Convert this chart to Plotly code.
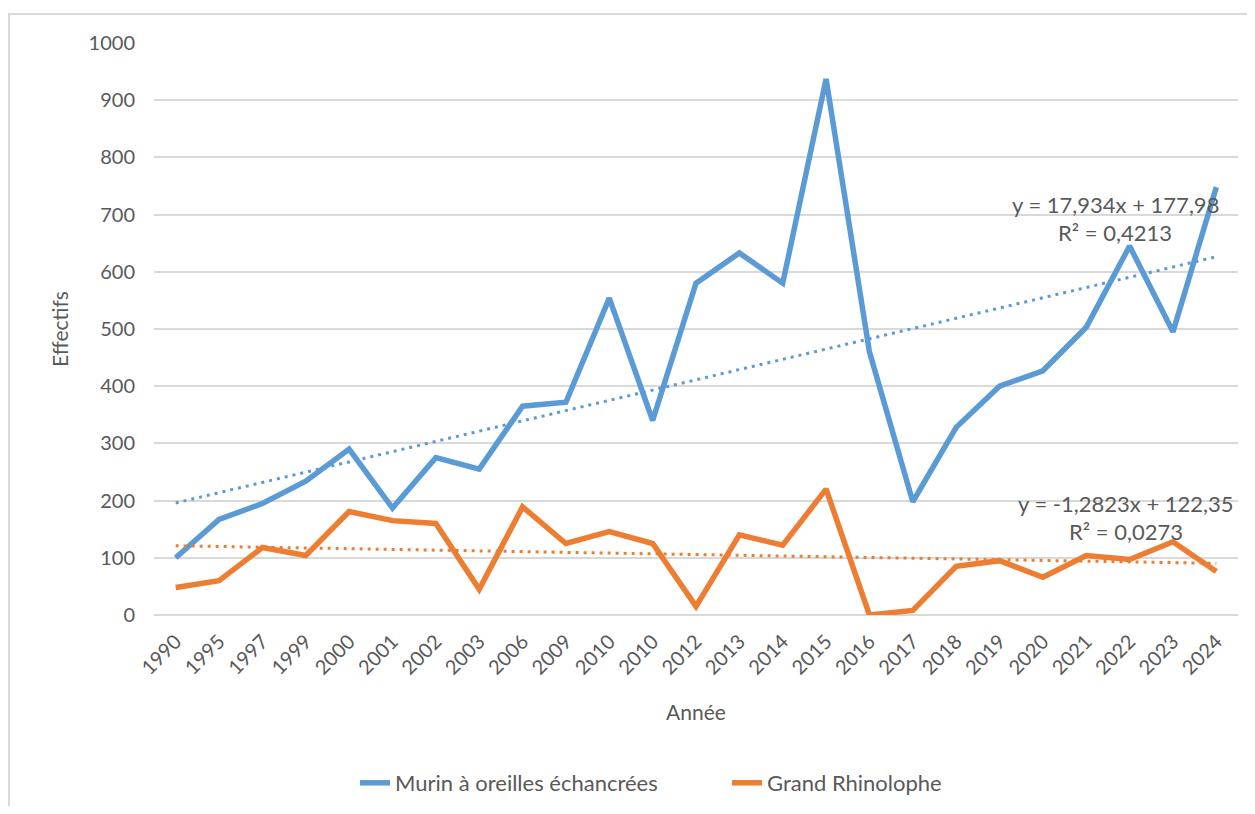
import plotly.graph_objects as go

# ---- data ----
years = ["1990", "1995", "1997", "1999", "2000", "2001", "2002", "2003", "2006", "2009",
         "2010", "2010", "2012", "2013", "2014", "2015", "2016", "2017", "2018", "2019",
         "2020", "2021", "2022", "2023", "2024"]
murin = [100, 167, 195, 234, 290, 187, 275, 255, 365, 372,
         554, 340, 580, 633, 580, 937, 460, 198, 328, 400,
         427, 503, 645, 495, 748]
rhino = [48, 60, 118, 104, 181, 165, 160, 45, 189, 125,
         146, 125, 15, 140, 122, 220, 0, 8, 85, 95,
         66, 104, 97, 128, 76]
murin_trend = (17.934, 177.98)   # slope, intercept (Excel linear trendline, x = 1..n)
rhino_trend = (-1.2823, 122.35)
murin_label = ["y = 17,934x + 177,98", "R² = 0,4213"]
rhino_label = ["y = -1,2823x + 122,35", "R² = 0,0273"]
y_ticks = [0, 100, 200, 300, 400, 500, 600, 700, 800, 900, 1000]

BLUE = "#5B9BD5"
ORANGE = "#ED7D31"
TXT = "#595959"
FONT = "Lato"

xs = list(range(1, len(years) + 1))

fig = go.Figure()
fig.add_trace(go.Scatter(x=xs, y=murin, mode="lines", name="Murin à oreilles échancrées",
                         line=dict(color=BLUE, width=5.5)))
fig.add_trace(go.Scatter(x=xs, y=rhino, mode="lines", name="Grand Rhinolophe",
                         line=dict(color=ORANGE, width=5.5)))

for (a, b), col in [(murin_trend, BLUE), (rhino_trend, ORANGE)]:
    tx = [xs[0], xs[-1]]
    ty = [a * v + b for v in tx]
    fig.add_trace(go.Scatter(x=tx, y=ty, mode="lines", showlegend=False, hoverinfo="skip",
                             line=dict(color=col, width=3, dash="3px,5px")))

# page offset of the figure (default body margin)
OFF = 8
W, H = 1239, 798
ml, mt = 146, 35
pw, ph = 1084, 572
mr = W - ml - pw
mb = H - mt - ph

def px2paper(px, py):
    # px, py are screen pixel coordinates
    return (px - OFF - ml) / pw, (mt + ph - (py - OFF)) / ph

annotations = []
for lbl, cx, ys in [(murin_label, 1115, (204, 232)), (rhino_label, 1126, (503, 531))]:
    for text, py in zip(lbl, ys):
        x0, y0 = px2paper(cx, py)
        annotations.append(dict(text=text, x=x0, y=y0, xref="paper", yref="paper",
                                showarrow=False, xanchor="center", yanchor="middle",
                                font=dict(family=FONT, size=22, color=TXT)))

bx0, by0 = px2paper(9, 14)
bx1, by1 = px2paper(1300, 900)
shapes = [dict(type="rect", xref="paper", yref="paper", x0=bx0, y0=by1, x1=bx1, y1=by0,
               line=dict(color="#D9D9D9", width=2), fillcolor="rgba(0,0,0,0)", layer="below")]

leg_x, leg_y = px2paper(355, 783)

fig.update_layout(
    width=W, height=H,
    margin=dict(l=ml, r=mr, t=mt, b=mb, autoexpand=False),
    paper_bgcolor="white", plot_bgcolor="white",
    font=dict(family=FONT, size=20, color=TXT),
    showlegend=True,
    legend=dict(orientation="h", x=leg_x, y=leg_y, xanchor="left", yanchor="middle",
                font=dict(family=FONT, size=22, color=TXT),
                entrywidth=327, entrywidthmode="pixels"),
    annotations=annotations,
    shapes=shapes,
    xaxis=dict(
        range=[0.5, len(years) + 0.5],
        tickmode="array", tickvals=xs, ticktext=years, tickangle=-45,
        showgrid=False, zeroline=False, showline=False,
        ticks="outside", ticklen=6, tickcolor="rgba(0,0,0,0)",
        tickfont=dict(family=FONT, size=20, color=TXT),
        title=dict(text="Année", font=dict(family=FONT, size=21, color=TXT), standoff=27),
    ),
    yaxis=dict(
        range=[0, 1000], tickmode="array", tickvals=y_ticks,
        showgrid=True, gridcolor="#D9D9D9", gridwidth=1.5,
        zeroline=True, zerolinecolor="#D9D9D9", zerolinewidth=1.5,
        showline=False,
        ticks="outside", ticklen=14, tickcolor="rgba(0,0,0,0)",
        tickfont=dict(family=FONT, size=20, color=TXT),
        title=dict(text="Effectifs", font=dict(family=FONT, size=21, color=TXT), standoff=14),
    ),
)

fig.write_html("out.html")
